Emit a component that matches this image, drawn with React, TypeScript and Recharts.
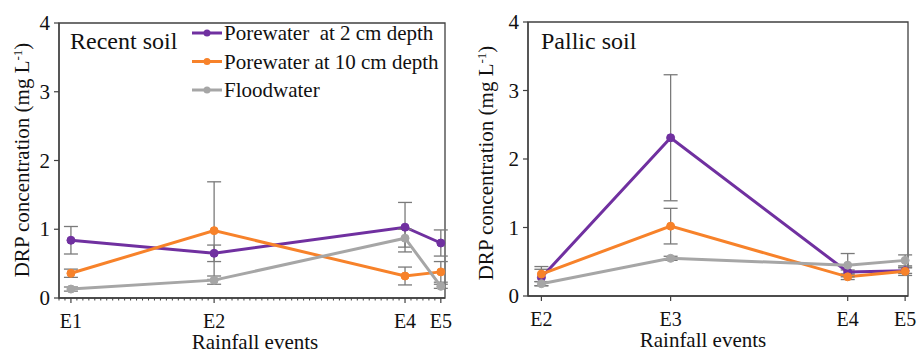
import React from "react"
import { LineChart, Line, XAxis, YAxis, ErrorBar, ReferenceArea } from "recharts"

// Recent soil (days since start, estimated from the tick spacing)
const recentEvents = ["E1", "E2", "E4", "E5"]
const recentDays = [2, 26, 58, 64]
const recentPore2 = [0.84, 0.65, 1.03, 0.8]
const recentPore2Err = [0.2, 0.12, 0.36, 0.19]
const recentPore10 = [0.36, 0.98, 0.32, 0.38]
const recentPore10Err = [0.06, 0.71, 0.13, 0.15]
const recentFlood = [0.13, 0.26, 0.87, 0.17]
const recentFloodErr = [0.03, 0.06, 0.13, 0.03]

// Pallic soil
const pallicEvents = ["E2", "E3", "E4", "E5"]
const pallicDays = [26, 39.5, 58, 64]
const pallicPore2 = [0.27, 2.31, 0.35, 0.37]
const pallicPore2Err = [0.12, 0.92, 0.03, 0.04]
const pallicPore10 = [0.32, 1.02, 0.28, 0.36]
const pallicPore10Err = [0.11, 0.26, 0.04, 0.06]
const pallicFlood = [0.18, 0.55, 0.45, 0.52]
const pallicFloodErr = [0.03, 0.03, 0.17, 0.08]

const yTicks = [0, 1, 2, 3, 4]

const PURPLE = "#7030A0"
const ORANGE = "#F7822A"
const GRAY = "#A6A6A6"
const AXIS = "#404040"
const ERR = "#7a7a7a"
const FONT =
  '"Liberation Serif", "Times New Roman", Times, Tinos, "Nimbus Roman", "Noto Serif", "DejaVu Serif", FreeSerif, serif'

function buildRows(
  days: number[],
  p2: number[],
  p2e: number[],
  p10: number[],
  p10e: number[],
  fl: number[],
  fle: number[]
) {
  return days.map((d, i) => ({
    day: d,
    p2: p2[i],
    p2e: p2e[i],
    p10: p10[i],
    p10e: p10e[i],
    fl: fl[i],
    fle: fle[i],
  }))
}

const recentRows = buildRows(
  recentDays,
  recentPore2,
  recentPore2Err,
  recentPore10,
  recentPore10Err,
  recentFlood,
  recentFloodErr
)
const pallicRows = buildRows(
  pallicDays,
  pallicPore2,
  pallicPore2Err,
  pallicPore10,
  pallicPore10Err,
  pallicFlood,
  pallicFloodErr
)

const txt = { fontFamily: FONT }

function XTick(props: any) {
  const { x, y, payload, days, events } = props
  const i = days.indexOf(payload.value)
  if (i < 0) {
    return <line x1={x} x2={x} y1={y} y2={y + 2.5} stroke={AXIS} strokeWidth={1} />
  }
  return (
    <g>
      <line x1={x} x2={x} y1={y} y2={y + 5} stroke={AXIS} strokeWidth={1.2} />
      <text x={x} y={y + 30} textAnchor="middle" fontSize={20} style={txt} fill="#111">
        {events[i]}
      </text>
    </g>
  )
}

function YTick(props: any) {
  const { x, y, payload } = props
  return (
    <text x={x} y={y + 7} textAnchor="end" fontSize={21} style={txt} fill="#111">
      {payload.value}
    </text>
  )
}

function Panel({
  rows,
  days,
  events,
  domain,
  minor,
  width,
  margin,
  yWidth,
  xHeight,
}: {
  rows: any[]
  days: number[]
  events: string[]
  domain: [number, number]
  minor: boolean
  width: number
  margin: { top: number; right: number; left: number; bottom: number }
  yWidth: number
  xHeight: number
}) {
  const ticks: number[] = [...days]
  if (minor) {
    for (let d = Math.ceil(domain[0]); d <= Math.floor(domain[1]); d++) {
      if (!ticks.includes(d)) ticks.push(d)
    }
    ticks.sort((a, b) => a - b)
  }
  const series = [
    { key: "p2", err: "p2e", color: PURPLE },
    { key: "p10", err: "p10e", color: ORANGE },
    { key: "fl", err: "fle", color: GRAY },
  ]
  return (
    <LineChart width={width} height={354} data={rows} margin={margin}>
      <ReferenceArea
        x1={domain[0]}
        x2={domain[1]}
        y1={0}
        y2={4}
        fill="none"
        stroke={AXIS}
        strokeWidth={1.3}
      />
      <XAxis
        dataKey="day"
        type="number"
        domain={domain}
        ticks={ticks}
        interval={0}
        height={xHeight}
        tickSize={0}
        tickMargin={0}
        tickLine={false}
        axisLine={{ stroke: AXIS, strokeWidth: 1.3 }}
        tick={(p: any) => <XTick {...p} days={days} events={events} />}
      />
      <YAxis
        type="number"
        domain={[0, 4]}
        ticks={yTicks}
        width={yWidth}
        tickSize={5}
        tickMargin={4}
        tickLine={{ stroke: AXIS, strokeWidth: 1.2 }}
        axisLine={{ stroke: AXIS, strokeWidth: 1.3 }}
        tick={(p: any) => <YTick {...p} />}
      />
      {series.map((s) => (
        <Line
          key={s.key}
          dataKey={s.key}
          stroke={s.color}
          strokeWidth={3}
          dot={{ r: 4, fill: s.color, stroke: s.color, strokeWidth: 1 }}
          isAnimationActive={false}
        >
          <ErrorBar dataKey={s.err} direction="y" width={7} stroke={ERR} strokeWidth={1.3} />
        </Line>
      ))}
    </LineChart>
  )
}

const legendItems = [
  { label: "Porewater\u00a0 at 2 cm depth", color: PURPLE },
  { label: "Porewater at 10 cm depth", color: ORANGE },
  { label: "Floodwater", color: GRAY },
]

function YTitle({ x, y }: { x: number; y: number }) {
  return (
    <text
      transform={`translate(${x},${y}) rotate(-90)`}
      textAnchor="middle"
      fontSize={21}
      style={txt}
      fill="#111"
    >
      DRP concentration (mg L
      <tspan dy={-7} fontSize={13}>
        -1
      </tspan>
      <tspan dy={7}>)</tspan>
    </text>
  )
}

export default function App() {
  return (
    <div style={{ position: "absolute", left: 0, top: 0, width: 917, height: 354, background: "#fff" }}>
      <div style={{ position: "absolute", left: 0, top: 0 }}>
        <Panel
          rows={recentRows}
          days={recentDays}
          events={recentEvents}
          domain={[0, 64.7]}
          minor={true}
          width={460}
          margin={{ top: 23, right: 15, left: 0, bottom: 0 }}
          yWidth={59}
          xHeight={56}
        />
      </div>
      <div style={{ position: "absolute", left: 460, top: 0 }}>
        <Panel
          rows={pallicRows}
          days={pallicDays}
          events={pallicEvents}
          domain={[24.6, 64.3]}
          minor={false}
          width={457}
          margin={{ top: 22, right: 9, left: 0, bottom: 0 }}
          yWidth={68}
          xHeight={58}
        />
      </div>
      <svg
        width={917}
        height={354}
        style={{ position: "absolute", left: 0, top: 0, pointerEvents: "none" }}
      >
        <text x={70} y={49} fontSize={24} style={txt} fill="#111">
          Recent soil
        </text>
        <text x={541} y={49} fontSize={24} style={txt} fill="#111">
          Pallic soil
        </text>
        {legendItems.map((it, i) => {
          const cy = 33 + i * 28.5
          return (
            <g key={it.label}>
              <line x1={192} x2={222} y1={cy} y2={cy} stroke={it.color} strokeWidth={3} />
              <circle cx={207} cy={cy} r={3.5} fill={it.color} />
              <text x={224} y={cy + 7} fontSize={21} style={txt} fill="#111">
                {it.label}
              </text>
            </g>
          )
        })}
        <YTitle x={29} y={160} />
        <YTitle x={493} y={163} />
        <text x={255} y={349} textAnchor="middle" fontSize={21} style={txt} fill="#111">
          Rainfall events
        </text>
        <text x={703} y={347} textAnchor="middle" fontSize={21} style={txt} fill="#111">
          Rainfall events
        </text>
      </svg>
    </div>
  )
}
